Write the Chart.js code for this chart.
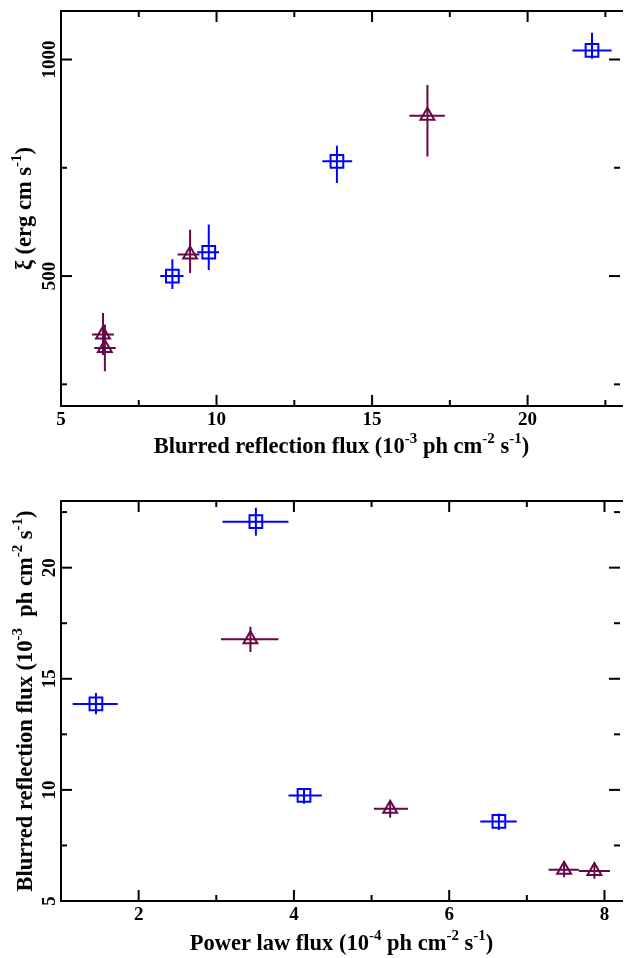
<!DOCTYPE html>
<html><head><meta charset="utf-8">
<script src="https://cdn.jsdelivr.net/npm/chart.js@4.4.1/dist/chart.umd.min.js"></script>
<style>
html,body{margin:0;padding:0;background:#fff;overflow:hidden;width:631px;height:958px;}
#c1{position:absolute;left:0;top:0;}
#c2{position:absolute;left:0;top:470px;}
</style></head><body>
<canvas id="c1" width="631" height="470" style="width:631px;height:470px"></canvas>
<canvas id="c2" width="631" height="488" style="width:631px;height:488px"></canvas>
<script>
// ---- data: blue squares ----
const sqPow    = [1.45, 3.51, 4.13, 6.64];
const sqPowLo  = [1.15, 3.08, 3.93, 6.40];
const sqPowHi  = [1.73, 3.93, 4.36, 6.87];
const sqRefl   = [13.87, 22.07, 9.75, 8.58];
const sqReflLo = [13.40, 21.44, 9.38, 8.19];
const sqReflHi = [14.36, 22.70, 10.08, 8.94];
const sqXi     = [765, 1021, 555, 500];
const sqXiLo   = [715, 1002, 514, 470];
const sqXiHi   = [801, 1062, 619, 539];
// ---- data: maroon triangles ----
const triPow    = [3.44, 5.24, 7.48, 7.87];
const triPowLo  = [3.06, 5.03, 7.28, 7.67];
const triPowHi  = [3.80, 5.47, 7.67, 8.07];
const triRefl   = [16.78, 9.15, 6.41, 6.35];
const triReflLo = [16.20, 8.75, 6.07, 6.00];
const triReflHi = [17.34, 9.45, 6.76, 6.70];
const triXi     = [870, 550, 334, 365];
const triXiLo   = [776, 507, 280, 318];
const triXiHi   = [941, 607, 388, 415];
// ---- axes ----
const topXTicks = [5, 10, 15, 20];
const topXMinor = [7.5, 12.5, 17.5, 22.5];
const topYTicks = [500, 1000];
const topYMinor = [250, 750];
const botXTicks = [2, 4, 6, 8];
const botXMinor = [3, 5, 7];
const botYTicks = [5, 10, 15, 20];
const botYMinor = [7.5, 12.5, 17.5, 22.5];
const topXRange = [5, 22.97];
const topYRange = [200, 1112];
const botXRange = [1, 8.2];
const botYRange = [5, 23];
const topXTitle = [['Blurred reflection flux (10',0],['-3',1],[' ph cm',0],['-2',1],[' s',0],['-1',1],[')',0]];
const topYTitle = [['\u03BE (erg cm s',0],['-1',1],[')',0]];
const botXTitle = [['Power law flux (10',0],['-4',1],[' ph cm',0],['-2',1],[' s',0],['-1',1],[')',0]];
const botYTitle = [['Blurred reflection flux (10',0],['-3',1],['  ph cm',0],['-2',1],[' s',0],['-1',1],[')',0]];

const BLUE = '#0000ff';
const MAROON = '#670748';
const FONT = '"Liberation Serif","Times New Roman",serif';

function rich(ctx, parts, x, y, rot, size, supSize, supRise) {
  ctx.save();
  ctx.translate(x, y);
  if (rot) ctx.rotate(rot);
  let w = 0;
  parts.forEach(([t, s]) => { ctx.font = 'bold ' + (s ? supSize : size) + 'px ' + FONT; w += ctx.measureText(t).width; });
  let cx = -w / 2;
  ctx.textBaseline = 'alphabetic';
  ctx.textAlign = 'left';
  ctx.fillStyle = '#000';
  parts.forEach(([t, s]) => {
    ctx.font = 'bold ' + (s ? supSize : size) + 'px ' + FONT;
    ctx.fillText(t, cx, s ? -supRise : 0);
    cx += ctx.measureText(t).width;
  });
  ctx.restore();
}

const framePlugin = {
  id: 'frame',
  beforeDatasetsDraw(chart) {
    const o = chart.options.plugins.frame;
    const {ctx, chartArea: a, scales: {x, y}} = chart;
    ctx.save();
    ctx.beginPath();
    ctx.rect(a.left, a.top, a.right - a.left, a.bottom - a.top);
    ctx.clip();
    ctx.lineWidth = 2;
    o.err.forEach(s => {
      ctx.strokeStyle = s.color;
      s.x.forEach((xv, i) => {
        const px = x.getPixelForValue(xv), py = y.getPixelForValue(s.y[i]);
        ctx.beginPath();
        ctx.moveTo(x.getPixelForValue(s.xLo[i]), py);
        ctx.lineTo(x.getPixelForValue(s.xHi[i]), py);
        ctx.moveTo(px, y.getPixelForValue(s.yLo[i]));
        ctx.lineTo(px, y.getPixelForValue(s.yHi[i]));
        ctx.stroke();
      });
    });
    ctx.restore();
  },
  afterDraw(chart) {
    const o = chart.options.plugins.frame;
    const {ctx, chartArea: a, scales: {x, y}} = chart;
    ctx.save();
    ctx.strokeStyle = '#000';
    ctx.lineWidth = 2;
    const seg = (x1, y1, x2, y2) => { ctx.beginPath(); ctx.moveTo(x1, y1); ctx.lineTo(x2, y2); ctx.stroke(); };
    // frame: right side lies just past the page edge
    ctx.beginPath();
    ctx.moveTo(a.right + 3, a.top); ctx.lineTo(a.left, a.top); ctx.lineTo(a.left, a.bottom); ctx.lineTo(a.right + 3, a.bottom);
    ctx.stroke();
    const MAJ = 11, MIN = 6;
    o.xMajor.forEach(v => { const p = x.getPixelForValue(v); seg(p, a.bottom, p, a.bottom - MAJ); seg(p, a.top, p, a.top + MAJ); });
    o.xMinor.forEach(v => { const p = x.getPixelForValue(v); seg(p, a.bottom, p, a.bottom - MIN); seg(p, a.top, p, a.top + MIN); });
    o.yMajor.forEach(v => { const p = y.getPixelForValue(v); seg(a.left, p, a.left + MAJ, p); seg(a.right, p, a.right - MAJ, p); });
    o.yMinor.forEach(v => { const p = y.getPixelForValue(v); seg(a.left, p, a.left + MIN, p); seg(a.right, p, a.right - MIN, p); });
    ctx.fillStyle = '#000';
    ctx.font = 'bold 19px ' + FONT;
    ctx.textAlign = 'center';
    ctx.textBaseline = 'alphabetic';
    o.xMajor.forEach(v => { ctx.fillText(String(v), x.getPixelForValue(v), a.bottom + 19); });
    o.yMajor.forEach(v => {
      ctx.save();
      ctx.translate(a.left - 6, y.getPixelForValue(v));
      ctx.rotate(-Math.PI / 2);
      ctx.fillText(String(v), 0, 0);
      ctx.restore();
    });
    rich(ctx, o.xTitle, (a.left + a.right) / 2 + 1, o.xTitleY, 0, 22.5, 15, 10);
    rich(ctx, o.yTitle, o.yTitleX, (a.top + a.bottom) / 2, -Math.PI / 2, 22.5, 15, 10);
    ctx.restore();
  }
};

function pts(xs, ys) { return xs.map((v, i) => ({x: v, y: ys[i]})); }

function make(id, cfg) {
  return new Chart(document.getElementById(id), {
    type: 'scatter',
    data: {
      datasets: [
        {data: cfg.sq, pointStyle: 'rect', pointRadius: 9, borderColor: BLUE, backgroundColor: 'rgba(0,0,0,0)', borderWidth: 2, pointHoverRadius: 9},
        {data: cfg.tri, pointStyle: 'triangle', pointRadius: 8, borderColor: MAROON, backgroundColor: 'rgba(0,0,0,0)', borderWidth: 2, pointHoverRadius: 8}
      ]
    },
    options: {
      responsive: false,
      animation: false,
      events: [],
      layout: {padding: cfg.pad},
      plugins: {legend: {display: false}, tooltip: {enabled: false}, frame: cfg.frame},
      scales: {
        x: {type: 'linear', min: cfg.xr[0], max: cfg.xr[1], display: false},
        y: {type: 'linear', min: cfg.yr[0], max: cfg.yr[1], display: false}
      }
    },
    plugins: [framePlugin]
  });
}

make('c1', {
  sq: pts(sqRefl, sqXi), tri: pts(triRefl, triXi),
  xr: topXRange, yr: topYRange,
  pad: {left: 61, top: 6, right: 0, bottom: 64},
  frame: {
    xMajor: topXTicks, xMinor: topXMinor, yMajor: topYTicks, yMinor: topYMinor,
    xTitle: topXTitle, yTitle: topYTitle, xTitleY: 453, yTitleX: 31,
    err: [
      {color: BLUE, x: sqRefl, xLo: sqReflLo, xHi: sqReflHi, y: sqXi, yLo: sqXiLo, yHi: sqXiHi},
      {color: MAROON, x: triRefl, xLo: triReflLo, xHi: triReflHi, y: triXi, yLo: triXiLo, yHi: triXiHi}
    ]
  }
});
make('c2', {
  sq: pts(sqPow, sqRefl), tri: pts(triPow, triRefl),
  xr: botXRange, yr: botYRange,
  pad: {left: 61, top: 31, right: 0, bottom: 57},
  frame: {
    xMajor: botXTicks, xMinor: botXMinor, yMajor: botYTicks, yMinor: botYMinor,
    xTitle: botXTitle, yTitle: botYTitle, xTitleY: 480, yTitleX: 32,
    err: [
      {color: BLUE, x: sqPow, xLo: sqPowLo, xHi: sqPowHi, y: sqRefl, yLo: sqReflLo, yHi: sqReflHi},
      {color: MAROON, x: triPow, xLo: triPowLo, xHi: triPowHi, y: triRefl, yLo: triReflLo, yHi: triReflHi}
    ]
  }
});
</script>
</body></html>
